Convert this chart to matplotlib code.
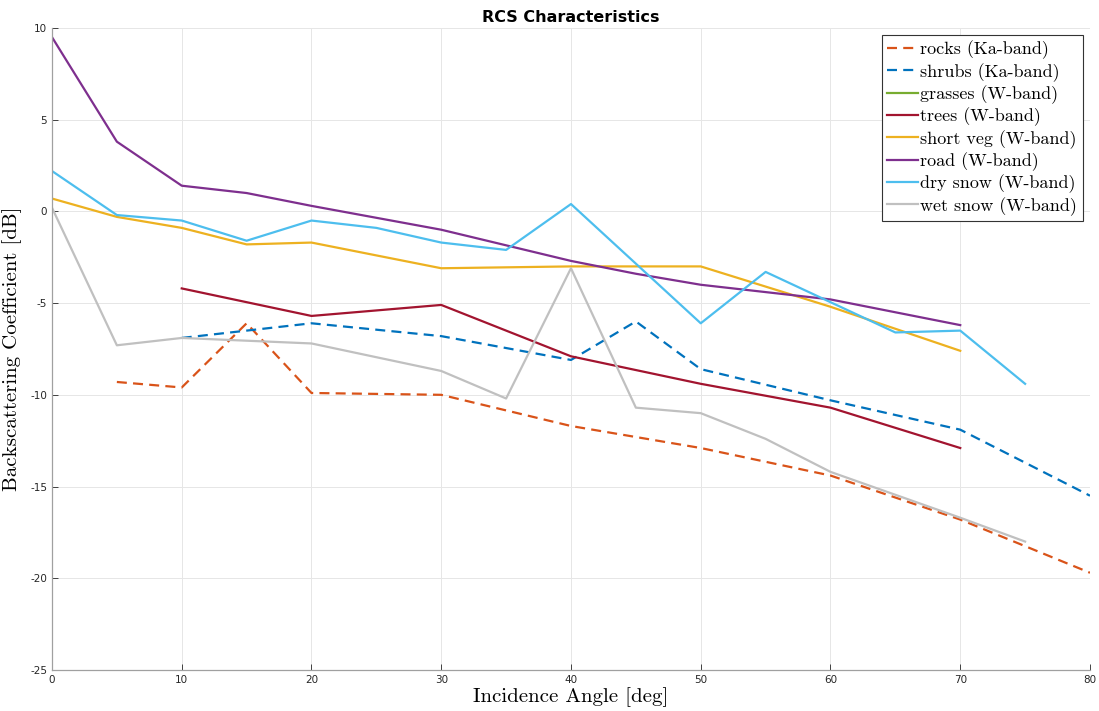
import numpy as np
import matplotlib
matplotlib.use('Agg')
import matplotlib.pyplot as plt

matplotlib.rcParams['axes.unicode_minus'] = False

# backscatter vs incidence angle, per terrain type
rocks_ang = [5, 10, 15, 20, 30, 40, 50, 60, 70, 80]
rocks_db = [-9.3, -9.6, -6.1, -9.9, -10.0, -11.7, -12.9, -14.4, -16.8, -19.7]

shrubs_ang = [10, 20, 30, 40, 45, 50, 60, 70, 80]
shrubs_db = [-6.9, -6.1, -6.8, -8.1, -6.0, -8.6, -10.3, -11.9, -15.5]

grasses_ang = []
grasses_db = []

trees_ang = [10, 20, 30, 40, 50, 60, 70]
trees_db = [-4.2, -5.7, -5.1, -7.9, -9.4, -10.7, -12.9]

shortveg_ang = [0, 5, 10, 15, 20, 30, 40, 50, 60, 70]
shortveg_db = [0.7, -0.3, -0.9, -1.8, -1.7, -3.1, -3.0, -3.0, -5.2, -7.6]

road_ang = [0, 5, 10, 15, 20, 30, 40, 45, 50, 60, 70]
road_db = [9.5, 3.8, 1.4, 1.0, 0.3, -1.0, -2.7, -3.4, -4.0, -4.8, -6.2]

drysnow_ang = [0, 5, 10, 15, 20, 25, 30, 35, 40, 50, 55, 65, 70, 75]
drysnow_db = [2.2, -0.2, -0.5, -1.6, -0.5, -0.9, -1.7, -2.1, 0.4, -6.1, -3.3, -6.6, -6.5, -9.4]

wetsnow_ang = [0, 5, 10, 20, 30, 35, 40, 45, 50, 55, 60, 70, 75]
wetsnow_db = [0.2, -7.3, -6.9, -7.2, -8.7, -10.2, -3.1, -10.7, -11.0, -12.4, -14.2, -16.7, -18.0]

dash = (0, (4.5, 2.8))
lw = 1.6

fig = plt.figure(figsize=(10.99, 7.11), dpi=100)
ax = fig.add_axes([0.0473, 0.0577, 0.9445, 0.903])

ax.plot(rocks_ang, rocks_db, color='#D95319', ls=dash, lw=lw, label='rocks (Ka-band)')
ax.plot(shrubs_ang, shrubs_db, color='#0072BD', ls=dash, lw=lw, label='shrubs (Ka-band)')
ax.plot(grasses_ang, grasses_db, color='#77AC30', lw=lw, label='grasses (W-band)')
ax.plot(trees_ang, trees_db, color='#A2142F', lw=lw, label='trees (W-band)')
ax.plot(shortveg_ang, shortveg_db, color='#EDB120', lw=lw, label='short veg (W-band)')
ax.plot(road_ang, road_db, color='#7E2F8E', lw=lw, label='road (W-band)')
ax.plot(drysnow_ang, drysnow_db, color='#4DBEEE', lw=lw, label='dry snow (W-band)')
ax.plot(wetsnow_ang, wetsnow_db, color='#C0C0C0', lw=lw, label='wet snow (W-band)')

ax.set_xlim(0, 80)
ax.set_ylim(-25, 10)
ax.set_xticks(np.arange(0, 81, 10))
ax.set_yticks(np.arange(-25, 11, 5))
ax.tick_params(direction='in', labelsize=7.5, colors='#262626', length=4, width=0.6)
ax.grid(True, color='#E6E6E6', lw=0.7)
ax.set_axisbelow(True)
for s in ['top', 'right']:
    ax.spines[s].set_visible(False)
for s in ['left', 'bottom']:
    ax.spines[s].set_color('#A0A0A0')
    ax.spines[s].set_linewidth(0.9)

ax.set_xlabel('Incidence Angle [deg]', family='cmr10', fontsize=15, labelpad=2)
ax.set_ylabel('Backscattering Coefficient [dB]', family='cmr10', fontsize=15, labelpad=6)
ax.set_title('RCS Characteristics', fontsize=11.5, fontweight='bold', pad=4)

leg = ax.legend(loc='upper right', prop={'family': 'cmr10', 'size': 13},
                fancybox=False, framealpha=1, edgecolor='#333333',
                handlelength=1.7, handletextpad=0.15, labelspacing=0.2,
                borderpad=0.3, borderaxespad=0.4)
leg.get_frame().set_linewidth(0.8)

fig.savefig('out.png', dpi=100)
